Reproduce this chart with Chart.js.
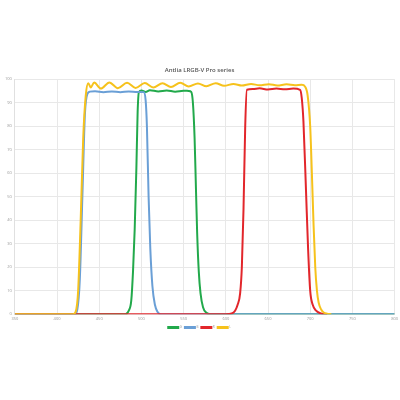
<!DOCTYPE html>
<html>
<head>
<meta charset="utf-8">
<script src="https://cdn.jsdelivr.net/npm/chart.js@4"></script>
<style>
  html, body { margin: 0; padding: 0; background: #fff; }
  #wrap { width: 400px; height: 400px; position: relative; }
</style>
</head>
<body>
<div id="wrap"><canvas id="chart"></canvas></div>
<script>
// wavelength (nm) / transmission (%)
const gWave = [350, 470, 481, 485, 488, 490, 492, 494, 495.5, 497,
               500, 505, 510, 520, 530, 540, 550, 556, 559, 561,
               563, 564.5, 566, 568, 570, 573, 577, 582, 600, 800];
const gT    = [0, 0, 0, 1.5, 6, 18, 36, 62, 86, 94.5,
               95.2, 94.6, 95.3, 94.8, 95.2, 94.7, 95.1, 95, 94.6, 90,
               75, 55, 35, 18, 9, 3, 0.6, 0, 0, 0];

const bWave = [350, 421, 424, 427, 430, 433, 436, 439, 445, 455,
               465, 475, 485, 495, 503, 505, 506.5, 508.5, 510.5, 513,
               516, 519, 523, 530, 800];
const bT    = [0, 0, 2, 15, 50, 85, 93.8, 94.7, 94.9, 94.5,
               94.8, 94.5, 94.8, 94.6, 94.5, 91, 80, 50, 28, 12,
               4, 1, 0, 0, 0];

const rWave = [350, 600, 607, 611, 614, 617, 619, 621, 623, 625,
               632, 640, 650, 660, 670, 680, 688, 690, 692, 695,
               697.5, 700, 703, 707, 712, 717, 720];
const rT    = [0, 0, 0.3, 1.5, 4, 9, 20, 45, 80, 95.5,
               95.8, 96.1, 95.6, 96, 95.7, 96, 95.5, 92, 82, 53,
               28, 10, 4, 1.5, 0.4, 0, 0];

const lWave = [350, 419, 422, 425, 428, 431, 434, 437, 440, 444,
               452, 462, 472, 483, 493, 504, 514, 525, 535, 546,
               556, 567, 577, 588, 598, 609, 619, 630, 640, 651,
               661, 672, 682, 690, 694, 697, 700, 702, 704, 706,
               708, 710, 713, 716, 720, 725];
const lT    = [0, 0, 1, 10, 40, 75, 93, 98.3, 96.5, 98.6,
               96, 98.6, 96.2, 98.5, 96.3, 98.4, 96.5, 98.3, 96.7, 98.5,
               96.9, 98.2, 97, 98.3, 97.2, 98, 97.3, 98, 97.4, 97.9,
               97.3, 97.8, 97.4, 97.6, 96.8, 93, 80, 60, 38, 20,
               10, 5, 2, 0.7, 0.2, 0];

const seriesNames = ["G", "B", "R", "L"];
const seriesColors = ["#22a94b", "#6a9fd6", "#e2262b", "#f6c21c"];
const drawOrder = [3, 2, 1, 0]; // L on top, then R, B, G

const xTicks = [350, 400, 450, 500, 550, 600, 650, 700, 750, 800];
const yTicks = [0, 10, 20, 30, 40, 50, 60, 70, 80, 90, 100];

const pairs = (w, t) => w.map((x, i) => ({ x: x, y: t[i] }));
const waves = [gWave, bWave, rWave, lWave];
const trans = [gT, bT, rT, lT];

const ctx = document.getElementById("chart").getContext("2d");
new Chart(ctx, {
  type: "line",
  data: {
    datasets: seriesNames.map((name, i) => ({
      label: name,
      data: pairs(waves[i], trans[i]),
      borderColor: seriesColors[i],
      backgroundColor: seriesColors[i],
      borderWidth: 2,
      pointRadius: 0,
      cubicInterpolationMode: "monotone",
      order: drawOrder[i],
    })),
  },
  options: {
    responsive: true,
    maintainAspectRatio: false,
    animation: false,
    layout: { padding: { top: 67, bottom: 61, left: 2, right: 3 } },
    plugins: {
      title: {
        display: true,
        text: "Antlia LRGB-V Pro series",
        color: "#555",
        font: { family: "Open Sans", size: 6, weight: "600" },
        padding: { top: 0, bottom: 5 },
      },
      legend: {
        position: "bottom",
        labels: {
          sort: (a, b) => a.datasetIndex - b.datasetIndex,
          boxWidth: 10,
          boxHeight: 1,
          padding: 3,
          color: "#999",
          font: { family: "Open Sans", size: 3 },
        },
      },
      tooltip: { enabled: false },
    },
    scales: {
      x: {
        type: "linear",
        min: 350,
        max: 800,
        afterBuildTicks: (axis) => { axis.ticks = xTicks.map((v) => ({ value: v })); },
        ticks: { color: "#999", font: { family: "Open Sans", size: 4 }, padding: 2 },
        grid: { color: "#e8e8e8", drawTicks: false },
        border: { color: "#e0e0e0" },
      },
      y: {
        min: 0,
        max: 100,
        afterBuildTicks: (axis) => { axis.ticks = yTicks.map((v) => ({ value: v })); },
        ticks: { color: "#999", font: { family: "Open Sans", size: 4 }, padding: 3 },
        grid: { color: "#e8e8e8", drawTicks: false },
        border: { color: "#e0e0e0" },
      },
    },
  },
});
</script>
</body>
</html>
